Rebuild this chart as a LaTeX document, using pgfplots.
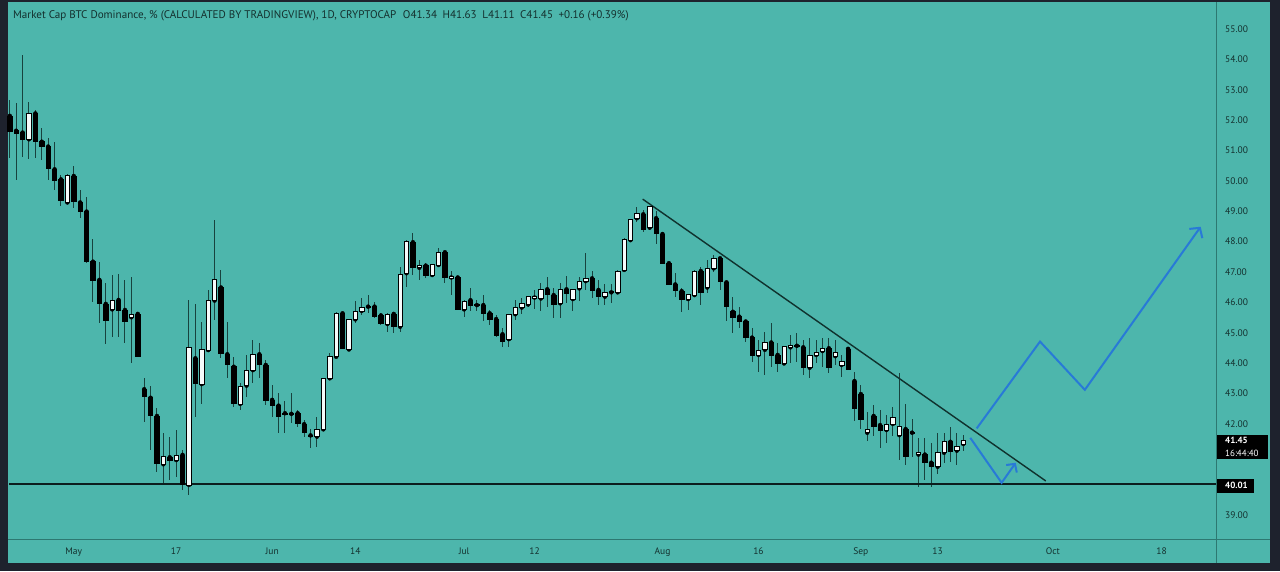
\documentclass[border=0pt]{standalone}
\usepackage{fontspec}
\setmainfont{PT Sans}
\usepackage{pgfplots}
\pgfplotsset{compat=1.18}
\usepackage{pgfplotstable}
\usetikzlibrary{arrows.meta}
\definecolor{tvbg}{RGB}{77,182,172}
\definecolor{tvframe}{RGB}{30,34,45}
\definecolor{tvsep}{RGB}{45,120,113}
\definecolor{tvtext}{RGB}{20,48,46}
\definecolor{wick}{RGB}{24,66,62}
\definecolor{trend}{RGB}{16,50,46}
\definecolor{arrowblue}{RGB}{40,122,215}
\definecolor{candlewhite}{RGB}{246,251,251}
\pgfdeclareplotmark{cbody}{%
  \pgfpathrectangle{\pgfpoint{-2.2pt}{-\hh pt}}{\pgfpoint{4.4pt}{2*\hh pt}}%
  \pgfusepathqfillstroke}
\pgfplotstableread{
d o h l c
-10 52.14 52.66 50.74 51.62
-9 51.65 52.55 50.03 51.56
-8 51.59 54.14 50.77 51.37
-7 51.37 52.61 50.71 52.22
-6 52.22 52.35 50.74 51.29
-5 51.29 51.73 50.69 51.13
-4 51.13 51.40 50.03 50.41
-3 50.38 51.29 49.70 50.03
-2 50.05 50.20 49.17 49.35
-1 49.29 50.22 49.25 50.17
0 50.16 50.49 49.10 49.32
1 49.29 49.70 48.77 49.01
2 48.99 49.48 47.29 47.34
3 47.34 48.08 46.02 46.74
4 46.74 47.34 45.31 45.97
5 45.95 46.63 44.63 45.42
6 45.77 46.90 44.85 46.08
7 46.08 46.93 44.87 45.73
8 45.75 46.74 44.67 45.37
9 45.51 46.82 44.02 45.61
10 45.62 45.66 44.21 44.21
11 43.14 43.50 42.07 42.90
12 42.86 43.25 41.14 42.29
13 42.26 42.51 40.40 40.70
14 40.67 41.69 39.99 40.94
15 40.90 41.56 40.15 40.79
16 40.81 41.80 40.26 40.98
17 40.98 41.14 39.82 40.01
18 39.99 46.08 39.66 44.52
19 44.16 45.95 42.24 43.34
20 43.31 45.37 42.65 44.45
21 44.43 46.41 44.40 46.08
22 46.06 48.71 45.42 46.76
23 46.49 47.07 44.16 44.32
24 44.29 45.36 43.50 43.96
25 43.88 44.21 42.57 42.68
26 42.66 43.33 42.46 43.23
27 43.26 44.27 42.90 43.75
28 43.77 44.76 43.33 44.29
29 44.29 44.67 43.50 43.96
30 43.94 44.10 42.62 42.79
31 42.79 43.28 42.24 42.62
32 42.60 43.00 41.69 42.24
33 42.35 42.76 41.69 42.33
34 42.33 43.00 42.02 42.32
35 42.35 42.46 41.91 42.02
36 41.99 42.13 41.58 41.71
37 41.62 41.82 41.19 41.60
38 41.58 42.24 41.25 41.82
39 41.82 43.50 41.80 43.50
40 43.50 44.32 43.48 44.21
41 44.21 45.69 44.19 45.64
42 45.64 45.66 44.47 44.49
43 44.45 45.46 44.43 45.44
44 45.44 46.06 45.31 45.72
45 45.72 46.13 45.58 45.84
46 45.86 46.24 45.64 45.87
47 45.86 46.02 45.47 45.55
48 45.57 45.64 45.26 45.31
49 45.29 45.64 45.04 45.62
50 45.62 45.66 45.00 45.22
51 45.20 47.18 45.03 46.93
52 46.96 48.05 46.52 48.02
53 47.98 48.27 46.90 47.14
54 47.14 47.40 46.74 47.21
55 47.21 47.28 46.79 46.90
56 46.90 47.27 46.88 47.25
57 47.23 47.78 47.21 47.65
58 47.65 47.67 46.63 46.81
59 46.82 47.03 46.24 46.83
60 46.82 46.84 45.75 45.77
61 45.77 46.07 45.53 46.05
62 46.07 46.46 45.72 45.89
63 45.91 46.08 45.72 45.92
64 45.91 46.24 45.39 45.64
65 45.64 45.75 45.25 45.45
66 45.45 45.58 44.87 44.93
67 44.95 45.15 44.54 44.71
68 44.79 45.63 44.54 45.61
69 45.61 46.08 45.42 45.83
70 45.83 46.15 45.61 45.97
71 45.93 46.21 45.86 46.19
72 46.16 46.41 45.78 46.17
73 46.13 46.63 45.72 46.43
74 46.43 46.85 45.86 46.27
75 46.24 46.46 45.47 45.93
76 45.97 46.63 45.47 46.43
77 46.43 46.88 45.97 46.30
78 46.11 46.44 45.72 46.43
79 46.46 46.85 46.04 46.70
80 46.70 47.61 46.41 46.79
81 46.79 47.03 46.13 46.41
82 46.41 46.74 45.91 46.19
83 46.19 46.59 45.91 46.32
84 46.33 46.59 45.97 46.34
85 46.33 47.05 46.31 47.03
86 47.07 48.11 47.05 48.09
87 48.05 48.75 48.03 48.73
88 48.77 49.15 48.66 48.93
89 48.90 49.04 48.33 48.42
90 48.46 49.17 48.38 49.15
91 48.77 49.01 47.91 48.27
92 48.25 48.27 47.27 47.29
93 47.29 47.31 46.57 46.59
94 46.59 46.96 46.19 46.39
95 46.37 46.46 45.69 46.11
96 46.11 46.29 45.75 46.27
97 46.24 47.05 46.22 47.03
98 47.03 47.18 45.91 46.33
99 46.49 47.40 46.30 47.12
100 47.12 47.56 46.99 47.45
101 47.45 47.50 46.41 46.68
102 46.66 46.68 45.39 45.86
103 45.69 46.19 44.98 45.50
104 45.53 45.86 45.15 45.37
105 45.37 45.39 44.71 44.84
106 44.84 45.15 44.05 44.27
107 44.27 44.76 43.72 44.43
108 44.44 45.04 43.61 44.68
109 44.68 45.31 43.88 44.27
110 44.27 44.65 43.72 43.99
111 43.99 44.56 43.97 44.54
112 44.52 44.93 44.00 44.60
113 44.57 45.00 44.05 44.58
114 44.52 44.76 43.61 43.86
115 43.85 44.82 43.50 44.27
116 44.27 44.76 44.00 44.36
117 44.40 44.82 43.88 44.49
118 44.49 44.82 43.66 43.86
119 44.23 44.76 43.94 44.34
120 43.94 44.27 43.55 44.05
121 44.47 44.49 43.79 43.81
122 43.41 43.72 42.10 42.51
123 42.98 43.28 41.82 42.15
124 41.71 42.40 41.42 41.82
125 42.26 42.62 41.60 41.93
126 41.96 42.46 41.19 41.80
127 41.80 42.29 41.38 41.99
128 42.00 42.54 41.60 42.22
129 41.63 43.66 40.81 41.91
130 41.83 42.65 40.65 40.94
131 41.71 42.15 40.92 41.72
132 40.99 41.52 39.93 41.05
133 40.99 41.52 40.15 40.72
134 40.72 41.38 39.91 40.59
135 40.59 41.71 40.35 41.05
136 41.05 41.71 40.72 41.41
137 41.41 41.89 40.76 41.09
138 41.12 41.71 40.65 41.27
139 41.34 41.63 41.11 41.45
}\candles
\begin{document}
\begin{tikzpicture}[x=1pt,y=1pt]
\fill[tvframe] (0,0) rectangle (1280,571);
\fill[tvbg] (8,8) rectangle (1270,569);
\begin{axis}[
  at={(9pt,32pt)}, anchor=south west,
  width=1207pt, height=537pt, scale only axis,
  xmin=-10.125, xmax=178.5, ymin=38.21, ymax=55.89,
  axis line style={draw=none},
  major tick length=0pt, tick style={draw=none},
  xtick={0,16,31,44,61,72,92,107,123,135,153,170},
  xticklabels={May,17,Jun,14,Jul,12,Aug,16,Sep,13,Oct,18},
  x tick label style={anchor=base, inner sep=0pt, yshift=-16pt, font=\fontsize{9.5}{11}\selectfont, text=tvtext},
  ytick={39,42,43,...,55},
  yticklabel pos=right,
  y tick label style={anchor=west, inner sep=0pt, xshift=9pt, font=\fontsize{9.5}{11}\selectfont, text=tvtext,
    /pgf/number format/.cd, fixed, fixed zerofill, precision=2, assume math mode=true},
  clip=true,
]
% wicks
\addplot[only marks, mark=none, forget plot,
  error bars/.cd, y dir=both, y explicit, error mark=none,
  error bar style={draw=wick, line width=1pt}]
  table[x=d, y=o, y error plus expr={\thisrow{h}-\thisrow{o}}, y error minus expr={\thisrow{o}-\thisrow{l}}] {\candles};
% falling (black) bodies: rectangles from open to close
\addplot[only marks, forget plot, mark=cbody,
  mark options={fill=black, draw=black, line width=0.6pt},
  visualization depends on={max(abs(\thisrow{c}-\thisrow{o})*15.1866,0.3) \as \hh}]
  table[x=d, y expr={ifthenelse(\thisrow{c}>\thisrow{o},-10,(\thisrow{o}+\thisrow{c})/2)}] {\candles};
% rising (white) bodies
\addplot[only marks, forget plot, mark=cbody,
  mark options={fill=candlewhite, draw=black, line width=0.6pt},
  visualization depends on={max(abs(\thisrow{c}-\thisrow{o})*15.1866,0.6) \as \hh}]
  table[x=d, y expr={ifthenelse(\thisrow{c}>\thisrow{o},(\thisrow{o}+\thisrow{c})/2,-10)}] {\candles};
% support line
\addplot[color={rgb,255:red,12;green,30;blue,30}, line width=1.8pt] coordinates {(-11,40.01) (180,40.01)};
% trend line
\addplot[trend, line width=1.4pt] coordinates {(88.9,49.40) (151.9,40.12)};
% blue projection arrows
\addplot[arrowblue, line width=2pt, -{Straight Barb[length=6pt,width=13pt]}] coordinates {(140.1,41.54) (145.0,40.06) (147.2,40.72)};
\addplot[arrowblue, line width=2pt, -{Straight Barb[length=7pt,width=16pt]}] coordinates {(141.1,41.85) (151.0,44.71) (158.0,43.12) (176.1,48.49)};
\end{axis}
% separators
\draw[tvsep, line width=1pt] (1216.5,8) -- (1216.5,569);
\draw[tvsep, line width=1pt] (8,31.7) -- (1270,31.7);
% title
\node[anchor=west, inner sep=0pt, text=tvtext, font=\fontsize{11.1}{13}\selectfont] at (13,555)
  {Market Cap BTC Dominance, \% (CALCULATED BY TRADINGVIEW), 1D, CRYPTOCAP\hspace{0.6em}O41.34\hspace{0.5em}H41.63\hspace{0.5em}L41.11\hspace{0.5em}C41.45\hspace{0.5em}+0.16 (+0.39\%)};
% price labels
\fill[black] (1217,111.7) rectangle (1268,136);
\node[anchor=west, inner sep=0pt, text=white, font=\fontsize{9}{10}\selectfont\bfseries] at (1225,131) {41.45};
\node[anchor=west, inner sep=0pt, text=white, font=\fontsize{9}{10}\selectfont] at (1225,117.6) {16:44:40};
\fill[black] (1217,78.3) rectangle (1254,92);
\node[anchor=west, inner sep=0pt, text=white, font=\fontsize{9}{10}\selectfont\bfseries] at (1225,85.3) {40.01};
\end{tikzpicture}
\end{document}
